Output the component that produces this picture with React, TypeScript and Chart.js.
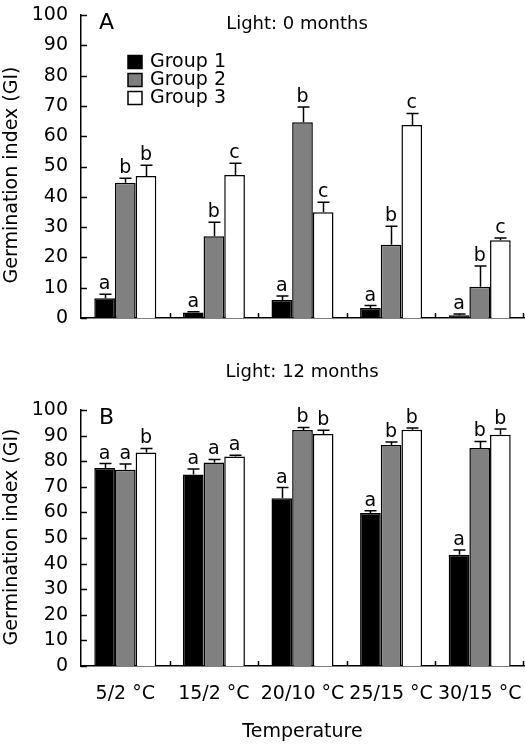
import React, { useEffect, useRef } from "react";
import { Chart, registerables } from "chart.js";

Chart.register(...registerables);

// ---------- data ----------
const categories = ["5/2 \u00B0C", "15/2 \u00B0C", "20/10 \u00B0C", "25/15 \u00B0C", "30/15 \u00B0C"];
const groupNames = ["Group 1", "Group 2", "Group 3"];
const groupColors = ["#000000", "#808080", "#ffffff"];
const yMin = 0;
const yMax = 100;
const yStep = 10;

// Panel A: Light 0 months
const a0G1 = [6.5, 1.8, 5.9, 3.3, 0.9];
const a0G1Err = [1.3, 0.3, 1.4, 0.8, 0.4];
const a0G2 = [44.6, 27.0, 64.6, 24.2, 10.3];
const a0G2Err = [1.5, 4.6, 5.0, 6.1, 6.9];
const a0G3 = [46.9, 47.2, 34.9, 63.7, 25.7];
const a0G3Err = [3.5, 3.9, 3.3, 3.8, 0.7];
const a0L1 = ["a", "a", "a", "a", "a"];
const a0L2 = ["b", "b", "b", "b", "b"];
const a0L3 = ["b", "c", "c", "c", "c"];

// Panel B: Light 12 months
const b12G1 = [77.3, 74.8, 65.5, 59.8, 43.5];
const b12G1Err = [1.8, 2.2, 4.2, 0.8, 1.8];
const b12G2 = [76.7, 79.5, 92.2, 86.3, 85.2];
const b12G2Err = [2.2, 1.2, 1.0, 1.2, 2.5];
const b12G3 = [83.4, 81.8, 90.6, 92.3, 90.3];
const b12G3Err = [1.6, 0.5, 1.5, 0.7, 2.3];
const b12L1 = ["a", "a", "a", "a", "a"];
const b12L2 = ["a", "a", "b", "b", "b"];
const b12L3 = ["b", "a", "b", "b", "b"];

const FONT = "DejaVu Sans";

type PanelOpts = {
  letter: string;
  title: string;
  titleX: number;
  titleY: number;
  yTitleY: number;
  showLegend: boolean;
  errs: number[][];
  letters: string[][];
};

const annotPlugin = {
  id: "annot",
  afterDraw(chart: any, _args: any, opts: PanelOpts) {
    const ctx = chart.ctx;
    const area = chart.chartArea;
    const ys = chart.scales.y;
    const xs = chart.scales.x;
    ctx.save();
    ctx.strokeStyle = "#000";
    ctx.fillStyle = "#000";
    ctx.lineWidth = 1.5;

    // inward y ticks
    for (let v = yMin; v <= yMax; v += yStep) {
      const py = Math.round(ys.getPixelForValue(v)) + 0.5;
      ctx.beginPath();
      ctx.moveTo(area.left, py);
      ctx.lineTo(area.left + 6, py);
      ctx.stroke();
    }
    // inward x ticks at category boundaries
    const n = categories.length;
    for (let i = 0; i < n; i++) {
      let px: number;
      if (i < n - 1) px = (xs.getPixelForValue(i) + xs.getPixelForValue(i + 1)) / 2;
      else px = area.right - 1;
      px = Math.round(px) + 0.5;
      ctx.beginPath();
      ctx.moveTo(px, area.bottom);
      ctx.lineTo(px, area.bottom - 5);
      ctx.stroke();
    }

    // error bars and significance letters
    chart.data.datasets.forEach((ds: any, di: number) => {
      const meta = chart.getDatasetMeta(di);
      meta.data.forEach((bar: any, j: number) => {
        const val = ds.data[j];
        const err = opts.errs[di][j];
        const yTop = ys.getPixelForValue(val + err);
        const x = Math.round(bar.x) + 0.5;
        ctx.lineWidth = 1.5;
        ctx.beginPath();
        ctx.moveTo(x, bar.y);
        ctx.lineTo(x, yTop);
        ctx.moveTo(x - 6, yTop);
        ctx.lineTo(x + 6, yTop);
        ctx.stroke();
        ctx.font = `19px "${FONT}"`;
        ctx.textAlign = "center";
        ctx.textBaseline = "alphabetic";
        ctx.fillText(opts.letters[di][j], bar.x, yTop - 5);
      });
    });

    // panel letter
    ctx.font = `22px "${FONT}"`;
    ctx.textAlign = "left";
    ctx.textBaseline = "middle";
    ctx.fillText(opts.letter, area.left + 18, area.top + 8);

    // panel title
    ctx.font = `18px "${FONT}"`;
    ctx.textAlign = "center";
    ctx.fillText(opts.title, opts.titleX, opts.titleY);

    // y axis title
    ctx.save();
    ctx.translate(12, opts.yTitleY);
    ctx.rotate(-Math.PI / 2);
    ctx.font = `19px "${FONT}"`;
    ctx.textAlign = "center";
    ctx.textBaseline = "middle";
    ctx.fillText("Germination index (GI)", 0, 0);
    ctx.restore();

    // legend
    if (opts.showLegend) {
      chart.data.datasets.forEach((ds: any, di: number) => {
        const cy = area.top + 47 + di * 18;
        ctx.fillStyle = ds.backgroundColor;
        ctx.fillRect(128, cy - 6.5, 14, 13);
        ctx.strokeStyle = "#000";
        ctx.lineWidth = 1.5;
        ctx.strokeRect(128, cy - 6.5, 14, 13);
        ctx.fillStyle = "#000";
        ctx.font = `19px "${FONT}"`;
        ctx.textAlign = "left";
        ctx.textBaseline = "middle";
        ctx.fillText(ds.label, 150, cy);
      });
    }
    ctx.restore();
  },
};

function makeConfig(
  series: number[][],
  padTop: number,
  xHeight: number,
  showXLabels: boolean,
  panel: PanelOpts
): any {
  return {
    type: "bar",
    data: {
      labels: categories,
      datasets: series.map((d, i) => ({
        label: groupNames[i],
        data: d,
        backgroundColor: groupColors[i],
        borderColor: "#000",
        borderWidth: 1.5,
        borderSkipped: "start",
        categoryPercentage: 0.7,
        barPercentage: 1.0,
      })),
    },
    options: {
      responsive: false,
      animation: false,
      devicePixelRatio: 1,
      layout: { padding: { top: padTop, right: 1, left: 0, bottom: 0 } },
      plugins: {
        legend: { display: false },
        tooltip: { enabled: false },
        annot: panel,
      },
      scales: {
        x: {
          grid: { display: false, drawTicks: false },
          border: { display: true, color: "#000", width: 1.5 },
          ticks: {
            display: showXLabels,
            color: "#000",
            font: { family: FONT, size: 19 },
            padding: 17,
            maxRotation: 0,
            autoSkip: false,
          },
          title: {
            display: showXLabels,
            text: "Temperature",
            color: "#000",
            font: { family: FONT, size: 19 },
            padding: { top: 0, bottom: 1 },
          },
          afterFit: (s: any) => {
            s.height = xHeight;
            s.paddingLeft = 0;
            s.paddingRight = 0;
          },
        },
        y: {
          min: yMin,
          max: yMax,
          grid: { display: false, drawTicks: false },
          border: { display: true, color: "#000", width: 1.5 },
          ticks: {
            stepSize: yStep,
            autoSkip: false,
            color: "#000",
            font: { family: FONT, size: 19 },
            padding: 13,
          },
          afterFit: (s: any) => {
            s.width = 81;
            s.paddingTop = 0;
            s.paddingBottom = 0;
          },
        },
      },
    },
    plugins: [annotPlugin],
  };
}

export default function App() {
  const refA = useRef<HTMLCanvasElement>(null);
  const refB = useRef<HTMLCanvasElement>(null);

  useEffect(() => {
    const chartA = new Chart(
      refA.current!,
      makeConfig([a0G1, a0G2, a0G3], 15, 27, false, {
        letter: "A",
        title: "Light: 0 months",
        titleX: 297,
        titleY: 24,
        yTitleY: 175,
        showLegend: true,
        errs: [a0G1Err, a0G2Err, a0G3Err],
        letters: [a0L1, a0L2, a0L3],
      })
    );
    const chartB = new Chart(
      refB.current!,
      makeConfig([b12G1, b12G2, b12G3], 65, 78, true, {
        letter: "B",
        title: "Light: 12 months",
        titleX: 302,
        titleY: 27,
        yTitleY: 192,
        showLegend: false,
        errs: [b12G1Err, b12G2Err, b12G3Err],
        letters: [b12L1, b12L2, b12L3],
      })
    );
    return () => {
      chartA.destroy();
      chartB.destroy();
    };
  }, []);

  return (
    <div style={{ position: "absolute", left: 0, top: 0, width: 525, height: 744, background: "#fff" }}>
      <canvas ref={refA} width={525} height={345} style={{ position: "absolute", left: 0, top: 0, display: "block" }} />
      <canvas ref={refB} width={525} height={399} style={{ position: "absolute", left: 0, top: 345, display: "block" }} />
    </div>
  );
}
